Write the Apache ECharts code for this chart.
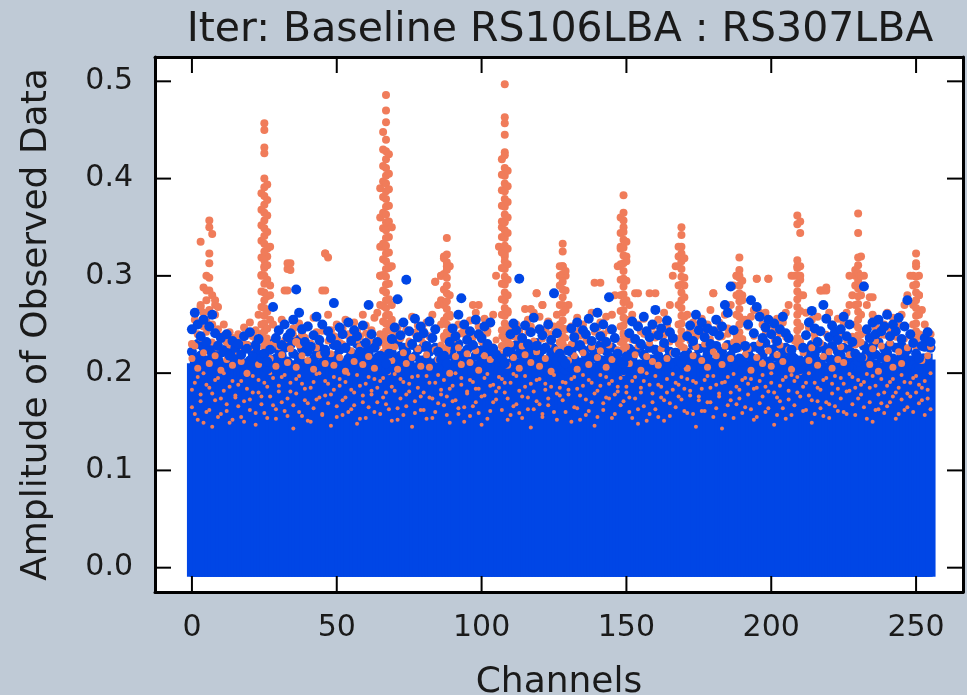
<!DOCTYPE html>
<html><head><meta charset="utf-8">
<script src="https://cdn.jsdelivr.net/npm/echarts@6/dist/echarts.min.js"></script>
<style>html,body{margin:0;padding:0;background:#bfcad6}#c{width:967px;height:695px}</style>
</head><body><div id="c"></div><script>
const titleText = 'Iter: Baseline RS106LBA : RS307LBA';
const xName = 'Channels';
const yName = 'Amplitude of Observed Data';
const xTicks = [0, 50, 100, 150, 200, 250];
const yTicks = [0, 0.1, 0.2, 0.3, 0.4, 0.5];

// top of the dense blue body of points, per channel 0..255
const coreTop = [
0.205,0.212,0.198,0.215,0.208,0.2,0.213,0.204,0.196,0.21,0.202,0.207,0.193,0.2,0.211,0.199,
0.203,0.197,0.209,0.192,0.201,0.206,0.195,0.21,0.204,0.2,0.214,0.208,0.199,0.205,0.194,0.207,
0.211,0.2,0.196,0.208,0.203,0.213,0.198,0.205,0.19,0.202,0.209,0.197,0.206,0.2,0.212,0.204,
0.199,0.207,0.193,0.21,0.203,0.197,0.208,0.201,0.214,0.196,0.205,0.2,0.209,0.194,0.206,0.211,
0.202,0.198,0.207,0.212,0.2,0.205,0.195,0.209,0.203,0.199,0.213,0.197,0.206,0.201,0.192,0.208,
0.204,0.21,0.199,0.206,0.195,0.203,0.211,0.2,0.207,0.197,0.204,0.214,0.198,0.205,0.201,0.209,
0.196,0.203,0.208,0.2,0.212,0.194,0.206,0.201,0.209,0.197,0.204,0.211,0.199,0.207,0.202,0.195,
0.21,0.2,0.205,0.197,0.213,0.203,0.198,0.208,0.193,0.206,0.201,0.21,0.196,0.204,0.209,0.2,
0.207,0.199,0.212,0.203,0.196,0.209,0.201,0.205,0.194,0.211,0.2,0.206,0.198,0.213,0.203,0.197,
0.208,0.202,0.195,0.21,0.204,0.199,0.207,0.193,0.212,0.201,0.206,0.197,0.209,0.203,0.2,0.214,
0.198,0.205,0.21,0.196,0.203,0.208,0.2,0.211,0.194,0.206,0.202,0.209,0.197,0.204,0.212,0.199,
0.206,0.2,0.213,0.195,0.203,0.209,0.198,0.205,0.201,0.21,0.196,0.207,0.203,0.199,0.211,0.204,
0.197,0.208,0.202,0.212,0.199,0.205,0.194,0.209,0.203,0.2,0.207,0.196,0.213,0.201,0.206,0.198,
0.21,0.203,0.197,0.208,0.2,0.205,0.211,0.195,0.204,0.209,0.199,0.206,0.202,0.213,0.197,0.204,
0.208,0.2,0.205,0.193,0.21,0.203,0.198,0.207,0.201,0.212,0.196,0.204,0.209,0.2,0.206,0.199,
0.211,0.203,0.197,0.208,0.202,0.214,0.199,0.205,0.21,0.196,0.207,0.203,0.212,0.2,0.215,0.209
];

// upper blue points per channel
const blueHi = [
0.245,0.262,0.25,0.238,0.255,0.232,0.248,0.26,0.241,0.228,0.236,0.222,0.24,0.218,0.233,0.226,
0.23,0.219,0.238,0.225,0.242,0.216,0.229,0.235,0.215,0.22,0.212,0.224,0.268,0.236,0.244,0.229,
0.25,0.237,0.241,0.255,0.286,0.262,0.245,0.232,0.248,0.227,0.239,0.258,0.234,0.25,0.221,0.243,
0.236,0.272,0.229,0.247,0.24,0.226,0.252,0.233,0.244,0.238,0.222,0.249,0.231,0.27,0.24,0.226,
0.232,0.218,0.214,0.21,0.22,0.235,0.247,0.276,0.239,0.252,0.296,0.243,0.23,0.256,0.237,0.248,
0.241,0.228,0.253,0.236,0.245,0.222,0.214,0.218,0.21,0.232,0.246,0.238,0.26,0.277,0.25,0.234,
0.243,0.229,0.255,0.24,0.236,0.248,0.23,0.252,0.225,0.219,0.212,0.215,0.21,0.222,0.24,0.251,
0.244,0.297,0.236,0.249,0.23,0.242,0.257,0.228,0.245,0.239,0.226,0.25,0.234,0.282,0.241,0.22,
0.214,0.21,0.223,0.246,0.237,0.252,0.229,0.244,0.24,0.256,0.233,0.247,0.262,0.238,0.25,0.232,
0.278,0.245,0.236,0.22,0.212,0.21,0.217,0.241,0.253,0.235,0.248,0.23,0.258,0.243,0.237,0.25,
0.265,0.239,0.246,0.231,0.254,0.242,0.236,0.221,0.213,0.21,0.218,0.238,0.249,0.233,0.26,0.244,
0.252,0.237,0.246,0.23,0.243,0.255,0.239,0.248,0.27,0.262,0.289,0.244,0.226,0.215,0.212,0.228,
0.25,0.275,0.241,0.268,0.258,0.236,0.247,0.255,0.24,0.251,0.233,0.245,0.258,0.241,0.236,0.224,
0.215,0.21,0.213,0.226,0.239,0.252,0.264,0.246,0.232,0.243,0.27,0.256,0.237,0.249,0.242,0.234,
0.245,0.258,0.238,0.25,0.232,0.22,0.212,0.216,0.289,0.245,0.236,0.252,0.24,0.255,0.243,0.248,
0.26,0.238,0.25,0.243,0.257,0.235,0.248,0.275,0.24,0.231,0.22,0.215,0.228,0.236,0.242,0.232
];

// lower blue points per channel
const blueLo = [
0.222,0.215,0.23,0.218,0.226,0.212,0.224,0.219,0.228,0.214,0.221,0.209,0.225,0.216,0.22,0.211,
0.217,0.224,0.21,0.228,0.213,0.22,0.226,0.208,0.219,0.207,0.204,0.21,0.231,0.215,0.223,0.218,
0.226,0.212,0.229,0.22,0.234,0.216,0.225,0.21,0.222,0.228,0.214,0.219,0.227,0.211,0.224,0.217,
0.213,0.229,0.218,0.224,0.209,0.226,0.215,0.221,0.212,0.23,0.219,0.214,0.225,0.22,0.21,0.228,
0.216,0.209,0.205,0.203,0.207,0.221,0.214,0.232,0.218,0.226,0.222,0.212,0.229,0.217,0.224,0.213,
0.227,0.215,0.222,0.21,0.226,0.213,0.206,0.204,0.203,0.219,0.225,0.211,0.23,0.22,0.216,0.224,
0.212,0.228,0.218,0.223,0.209,0.226,0.215,0.221,0.213,0.207,0.204,0.203,0.205,0.21,0.224,0.218,
0.229,0.22,0.212,0.226,0.218,0.223,0.214,0.231,0.217,0.224,0.21,0.227,0.219,0.225,0.213,0.208,
0.205,0.203,0.207,0.222,0.215,0.228,0.211,0.224,0.218,0.213,0.226,0.22,0.215,0.229,0.212,0.223,
0.217,0.226,0.213,0.207,0.204,0.203,0.206,0.225,0.216,0.222,0.209,0.228,0.219,0.213,0.226,0.211,
0.224,0.218,0.212,0.227,0.215,0.222,0.21,0.208,0.204,0.203,0.205,0.221,0.214,0.229,0.217,0.225,
0.213,0.226,0.219,0.223,0.211,0.228,0.216,0.222,0.214,0.229,0.218,0.225,0.21,0.205,0.203,0.207,
0.222,0.216,0.227,0.213,0.225,0.219,0.231,0.212,0.224,0.217,0.228,0.214,0.221,0.226,0.211,0.218,
0.206,0.203,0.204,0.21,0.223,0.216,0.229,0.219,0.225,0.212,0.227,0.221,0.215,0.228,0.213,0.222,
0.218,0.226,0.212,0.224,0.217,0.208,0.204,0.205,0.228,0.221,0.214,0.227,0.219,0.232,0.216,0.225,
0.221,0.229,0.215,0.226,0.212,0.228,0.219,0.224,0.213,0.208,0.205,0.204,0.215,0.227,0.231,0.226
];

// upper salmon points per channel
const salmonTop = [
0.23,0.255,0.24,0.268,0.248,0.275,0.285,0.26,0.27,0.245,0.238,0.25,0.232,0.242,0.236,0.226,
0.24,0.233,0.247,0.229,0.252,0.238,0.244,0.26,0.3,0.31,0.32,0.28,0.25,0.237,0.243,0.255,
0.285,0.307,0.313,0.246,0.232,0.251,0.24,0.236,0.249,0.228,0.257,0.242,0.234,0.285,0.323,0.26,
0.244,0.238,0.25,0.231,0.246,0.255,0.24,0.235,0.252,0.243,0.238,0.26,0.249,0.235,0.244,0.257,
0.262,0.3,0.33,0.35,0.31,0.255,0.24,0.247,0.236,0.252,0.244,0.23,0.258,0.241,0.249,0.235,
0.243,0.252,0.238,0.26,0.294,0.27,0.3,0.32,0.31,0.258,0.244,0.237,0.25,0.241,0.246,0.233,
0.254,0.27,0.262,0.248,0.239,0.256,0.243,0.251,0.26,0.3,0.33,0.35,0.32,0.262,0.245,0.238,
0.25,0.243,0.236,0.266,0.255,0.248,0.262,0.282,0.258,0.27,0.245,0.253,0.24,0.248,0.26,0.3,
0.31,0.3,0.27,0.248,0.24,0.257,0.244,0.25,0.238,0.256,0.262,0.293,0.247,0.252,0.24,0.258,
0.244,0.26,0.28,0.31,0.33,0.35,0.32,0.27,0.26,0.282,0.25,0.243,0.256,0.241,0.282,0.248,
0.24,0.255,0.238,0.262,0.249,0.27,0.3,0.31,0.32,0.33,0.29,0.26,0.243,0.252,0.238,0.247,
0.256,0.24,0.25,0.265,0.282,0.244,0.252,0.238,0.26,0.246,0.27,0.29,0.3,0.3,0.28,0.255,
0.248,0.258,0.265,0.297,0.262,0.25,0.262,0.297,0.25,0.243,0.256,0.241,0.252,0.262,0.27,0.3,
0.3,0.31,0.3,0.28,0.262,0.247,0.255,0.24,0.258,0.285,0.285,0.285,0.262,0.25,0.243,0.256,
0.24,0.252,0.262,0.27,0.28,0.3,0.3,0.32,0.29,0.27,0.278,0.26,0.247,0.255,0.24,0.25,
0.262,0.245,0.257,0.243,0.25,0.26,0.27,0.28,0.3,0.3,0.31,0.28,0.265,0.25,0.243,0.24
];

// salmon points mixed into the top of the blue body, per channel
const salmonMid = [
0.215,0.228,0.205,0.236,0.221,0.242,0.21,0.232,0.218,0.226,0.203,0.239,0.214,0.229,0.208,0.235,
0.222,0.212,0.238,0.2,0.226,0.217,0.233,0.209,0.241,0.224,0.236,0.215,0.23,0.207,0.227,0.219,
0.234,0.211,0.225,0.24,0.206,0.229,0.218,0.237,0.213,0.231,0.204,0.226,0.219,0.243,0.21,0.233,
0.22,0.208,0.235,0.216,0.23,0.202,0.238,0.223,0.212,0.234,0.227,0.209,0.241,0.217,0.232,0.205,
0.228,0.218,0.231,0.224,0.236,0.213,0.227,0.204,0.239,0.221,0.21,0.233,0.216,0.242,0.225,0.207,
0.231,0.219,0.206,0.237,0.224,0.214,0.229,0.235,0.222,0.2,0.234,0.217,0.226,0.209,0.24,0.22,
0.211,0.236,0.223,0.203,0.232,0.218,0.241,0.214,0.227,0.234,0.221,0.238,0.226,0.208,0.23,0.216,
0.237,0.205,0.228,0.219,0.242,0.211,0.233,0.222,0.207,0.235,0.215,0.229,0.202,0.239,0.224,0.231,
0.226,0.236,0.213,0.23,0.218,0.204,0.238,0.221,0.233,0.209,0.227,0.242,0.216,0.223,0.235,0.206,
0.229,0.214,0.237,0.224,0.232,0.238,0.227,0.21,0.234,0.219,0.228,0.203,0.24,0.217,0.231,0.212,
0.236,0.208,0.225,0.239,0.215,0.232,0.221,0.236,0.23,0.238,0.226,0.205,0.233,0.218,0.227,0.241,
0.213,0.23,0.206,0.235,0.222,0.218,0.237,0.209,0.228,0.24,0.215,0.232,0.236,0.229,0.234,0.219,
0.225,0.203,0.238,0.216,0.231,0.21,0.242,0.223,0.207,0.234,0.219,0.229,0.212,0.237,0.224,0.204,
0.233,0.236,0.228,0.221,0.239,0.213,0.226,0.235,0.208,0.231,0.217,0.24,0.222,0.205,0.236,0.214,
0.227,0.211,0.234,0.219,0.238,0.229,0.236,0.232,0.216,0.241,0.209,0.225,0.233,0.202,0.228,0.239,
0.215,0.231,0.206,0.237,0.222,0.21,0.235,0.226,0.238,0.233,0.236,0.229,0.213,0.24,0.218,0.227
];

// salmon speckles inside the dense body, two per channel
const salmonSpeck = [
0.165,0.19,0.152,0.178,0.2,0.16,0.185,0.145,0.172,0.195,0.158,0.182,0.168,0.149,0.192,0.175,
0.188,0.155,0.171,0.198,0.162,0.18,0.147,0.193,0.176,0.159,0.186,0.2,0.167,0.153,0.181,0.196,
0.161,0.174,0.19,0.143,0.179,0.197,0.156,0.184,0.169,0.15,0.191,0.173,0.2,0.158,0.177,0.189,
0.146,0.183,0.166,0.194,0.157,0.175,0.199,0.163,0.18,0.148,0.187,0.17,0.154,0.196,0.178,0.16,
0.185,0.192,0.175,0.168,0.2,0.151,0.182,0.164,0.194,0.157,0.178,0.189,0.145,0.171,0.197,0.162,
0.18,0.153,0.19,0.174,0.16,0.198,0.183,0.167,0.176,0.149,0.187,0.172,0.158,0.195,0.165,0.181,
0.156,0.191,0.17,0.184,0.147,0.177,0.199,0.161,0.188,0.173,0.185,0.194,0.18,0.152,0.19,0.166,
0.197,0.159,0.176,0.186,0.163,0.144,0.181,0.193,0.168,0.155,0.189,0.174,0.2,0.16,0.179,0.185,
0.172,0.19,0.183,0.15,0.196,0.164,0.177,0.187,0.157,0.193,0.17,0.146,0.182,0.198,0.162,0.175,
0.189,0.154,0.178,0.186,0.195,0.171,0.18,0.16,0.192,0.174,0.148,0.185,0.166,0.2,0.158,0.179,
0.163,0.188,0.175,0.151,0.194,0.169,0.183,0.19,0.176,0.196,0.184,0.159,0.177,0.192,0.145,0.172,
0.184,0.161,0.197,0.17,0.155,0.188,0.176,0.143,0.191,0.167,0.18,0.199,0.186,0.174,0.193,0.165,
0.178,0.194,0.152,0.185,0.169,0.198,0.16,0.181,0.19,0.147,0.175,0.187,0.164,0.196,0.173,0.157,
0.192,0.18,0.2,0.186,0.162,0.177,0.149,0.19,0.171,0.183,0.156,0.195,0.168,0.179,0.197,0.161,
0.174,0.189,0.158,0.182,0.196,0.185,0.193,0.178,0.165,0.199,0.17,0.15,0.187,0.163,0.194,0.18,
0.166,0.191,0.176,0.153,0.185,0.198,0.162,0.179,0.19,0.195,0.18,0.188,0.172,0.157,0.183,0.2
];
const salmonSpeck2 = [
0.183,0.158,0.196,0.171,0.149,0.188,0.162,0.179,0.193,0.155,0.174,0.2,0.161,0.186,0.152,0.177,
0.166,0.192,0.15,0.184,0.173,0.197,0.159,0.18,0.168,0.19,0.154,0.176,0.195,0.163,0.187,0.17,
0.198,0.156,0.181,0.167,0.194,0.16,0.189,0.172,0.151,0.185,0.164,0.199,0.175,0.157,0.192,0.169,
0.178,0.196,0.155,0.187,0.172,0.191,0.16,0.183,0.167,0.198,0.153,0.177,0.189,0.165,0.182,0.194,
0.17,0.158,0.195,0.18,0.163,0.186,0.199,0.152,0.174,0.191,0.166,0.181,0.196,0.159,0.185,0.176,
0.162,0.197,0.175,0.154,0.19,0.169,0.178,0.193,0.157,0.184,0.171,0.2,0.164,0.188,0.15,0.179,
0.193,0.166,0.184,0.159,0.176,0.195,0.153,0.187,0.17,0.181,0.196,0.162,0.19,0.174,0.157,0.199,
0.168,0.182,0.154,0.197,0.175,0.189,0.163,0.171,0.194,0.158,0.183,0.167,0.186,0.198,0.152,0.177,
0.191,0.16,0.178,0.194,0.165,0.184,0.152,0.198,0.173,0.161,0.19,0.179,0.155,0.187,0.169,0.196,
0.174,0.192,0.158,0.181,0.167,0.199,0.186,0.175,0.154,0.196,0.163,0.18,0.192,0.151,0.188,0.17,
0.197,0.155,0.186,0.172,0.18,0.156,0.199,0.165,0.188,0.173,0.161,0.194,0.182,0.158,0.19,0.176,
0.161,0.193,0.17,0.185,0.197,0.164,0.179,0.19,0.157,0.196,0.172,0.154,0.168,0.183,0.159,0.195,
0.189,0.163,0.184,0.155,0.192,0.176,0.186,0.164,0.2,0.18,0.157,0.171,0.193,0.153,0.182,0.198,
0.167,0.196,0.176,0.161,0.19,0.2,0.172,0.158,0.185,0.164,0.193,0.17,0.154,0.189,0.166,0.184,
0.195,0.16,0.181,0.199,0.168,0.157,0.174,0.188,0.191,0.153,0.185,0.197,0.162,0.178,0.169,0.159,
0.187,0.17,0.194,0.18,0.158,0.173,0.191,0.165,0.176,0.16,0.197,0.169,0.185,0.192,0.174,0.163
];

// salmon spike columns: [channel, [amplitudes]]
const salmonSpikes = [
[3,[0.335,0.27]],[4,[0.288,0.262,0.25]],[5,[0.3,0.285,0.255]],
[6,[0.357,0.35,0.323,0.313,0.298,0.265]],[7,[0.343,0.28,0.25]],[8,[0.275,0.26]],[9,[0.268]],
[24,[0.385,0.368,0.352,0.336,0.319,0.301,0.284,0.268,0.25,0.234]],
[25,[0.457,0.45,0.432,0.426,0.4,0.391,0.382,0.373,0.365,0.357,0.349,0.341,0.333,0.325,0.316,0.308,0.3,0.292,0.283,0.275,0.267,0.259,0.251,0.243,0.235,0.227,0.219]],
[26,[0.394,0.378,0.362,0.345,0.328,0.311,0.296,0.279,0.263,0.246,0.23]],
[27,[0.33,0.29,0.255]],
[33,[0.313,0.285]],[34,[0.306]],[46,[0.323,0.285]],[47,[0.319]],
[65,[0.39,0.36,0.33,0.3,0.27,0.24]],
[66,[0.448,0.43,0.413,0.397,0.381,0.365,0.349,0.333,0.317,0.301,0.285,0.269,0.253,0.237,0.221]],
[67,[0.486,0.47,0.458,0.44,0.428,0.42,0.411,0.403,0.395,0.387,0.379,0.371,0.363,0.355,0.347,0.339,0.331,0.323,0.315,0.307,0.299,0.291,0.283,0.275,0.267,0.259,0.251,0.243,0.235,0.227,0.219]],
[68,[0.425,0.405,0.389,0.372,0.356,0.34,0.324,0.308,0.292,0.276,0.26,0.244,0.228]],
[69,[0.35,0.31,0.27,0.25]],
[84,[0.294]],[86,[0.3,0.275,0.25]],
[87,[0.318,0.302,0.286,0.27,0.254,0.238,0.222]],
[88,[0.339,0.322,0.314,0.306,0.298,0.29,0.282,0.274,0.266,0.258,0.25,0.242,0.234,0.226]],
[89,[0.31,0.28,0.26,0.24]],[99,[0.27]],
[107,[0.42,0.404,0.388,0.372,0.356,0.34,0.324,0.308,0.292,0.276,0.26,0.244,0.228]],
[108,[0.497,0.463,0.457,0.445,0.427,0.424,0.411,0.403,0.395,0.387,0.379,0.371,0.363,0.355,0.347,0.339,0.331,0.323,0.315,0.307,0.299,0.291,0.283,0.275,0.267,0.259,0.251,0.243,0.235,0.227,0.219]],
[109,[0.408,0.392,0.376,0.36,0.344,0.328,0.312,0.296,0.28,0.264,0.248,0.232]],
[117,[0.266]],[119,[0.282]],[121,[0.27]],
[127,[0.31,0.29,0.27,0.25,0.232]],
[128,[0.333,0.325,0.31,0.302,0.294,0.286,0.278,0.27,0.262,0.254,0.246,0.238,0.23,0.222]],
[129,[0.305,0.285,0.265,0.245,0.226]],[141,[0.293]],
[148,[0.36,0.344,0.328,0.312,0.296,0.28,0.264,0.248,0.232]],
[149,[0.383,0.365,0.357,0.345,0.337,0.329,0.321,0.313,0.305,0.297,0.289,0.281,0.273,0.265,0.257,0.249,0.241,0.233,0.225]],
[150,[0.335,0.315,0.295,0.275,0.255,0.236]],[154,[0.282]],[160,[0.282]],
[168,[0.33,0.31,0.29,0.27,0.25,0.232]],
[169,[0.35,0.342,0.323,0.315,0.307,0.299,0.291,0.283,0.275,0.267,0.259,0.251,0.243,0.235,0.227]],
[170,[0.318,0.298,0.278,0.258,0.238]],[180,[0.282]],
[188,[0.3,0.28,0.26,0.24]],
[189,[0.319,0.306,0.298,0.29,0.282,0.274,0.266,0.258,0.25,0.242,0.234,0.226]],
[190,[0.295,0.275,0.255,0.235]],[195,[0.297]],[199,[0.297]],
[209,[0.362,0.353,0.316,0.308,0.3,0.292,0.284,0.276,0.268,0.26,0.252,0.244,0.236,0.228]],
[210,[0.356,0.344,0.31,0.296,0.28,0.264,0.248,0.232]],[217,[0.285]],[219,[0.288]],
[227,[0.3]],[229,[0.306,0.29,0.27,0.25]],
[230,[0.364,0.344,0.319,0.311,0.303,0.295,0.287,0.279,0.271,0.263,0.255,0.247,0.239,0.231]],
[231,[0.3,0.28,0.26,0.24]],[232,[0.3]],[235,[0.278]],
[249,[0.29,0.27,0.25]],
[250,[0.323,0.313,0.299,0.291,0.283,0.275,0.267,0.259,0.251,0.243,0.235,0.227]],
[251,[0.3,0.28,0.26,0.24]]
];

const BLUE = '#0046e6', SALMON = '#f07c5a', FONT = 'DejaVu Sans', TXT = '#1a1a1a';

const perChannel = arr => arr.map((v, i) => [i, v]);
const coreData = perChannel(coreTop);
const speckPts = perChannel(salmonSpeck).concat(perChannel(salmonSpeck2));
const salmonPts = perChannel(salmonTop);
salmonSpikes.forEach(([ch, vals]) => vals.forEach(v => salmonPts.push([ch, v])));

const chart = echarts.init(document.getElementById('c'), null, {renderer: 'canvas'});
const XMIN = -12.75, XMAX = 266.2, YMIN = -0.025, YMAX = 0.525;
const TICK_LEN = 16;
const frameLine = () => ({show: true, onZero: false, lineStyle: {color: '#000', width: 3}});
const lab = () => ({fontFamily: FONT, fontSize: 30, color: TXT});
const sc = (data, size, color) => ({type: 'scatter', data, symbolSize: size, silent: true, z: 2,
  itemStyle: {color, opacity: 1}, emphasis: {disabled: true}});
// tick marks on all four sides, placed through the axis scales
const tickSeries = (data, horizontal) => ({
  type: 'custom', data, clip: false, silent: true, z: 12,
  renderItem: (params, api) => {
    const cs = params.coordSys;
    const p = api.coord([api.value(0), api.value(1)]);
    const st = () => ({stroke: '#000', lineWidth: 2});
    if (horizontal) {
      const yb = cs.y + cs.height, yt = cs.y;
      return {type: 'group', children: [
        {type: 'line', shape: {x1: p[0], y1: yb, x2: p[0], y2: yb - TICK_LEN}, style: st()},
        {type: 'line', shape: {x1: p[0], y1: yt, x2: p[0], y2: yt + TICK_LEN}, style: st()}]};
    }
    const xl = cs.x, xr = cs.x + cs.width;
    return {type: 'group', children: [
      {type: 'line', shape: {x1: xl, y1: p[1], x2: xl + TICK_LEN, y2: p[1]}, style: st()},
      {type: 'line', shape: {x1: xr, y1: p[1], x2: xr - TICK_LEN, y2: p[1]}, style: st()}]};
  }
});

chart.setOption({
  backgroundColor: '#bfcad6',
  animation: false,
  graphic: [{type: 'text', x: 560, y: 30, style: {text: titleText, font: '41px "DejaVu Sans"', fill: TXT,
    align: 'center', verticalAlign: 'middle', textAlign: 'center', textVerticalAlign: 'middle'}}],
  grid: {left: 155, right: 4, top: 57, bottom: 103, show: true, backgroundColor: '#fff', z: 0,
    borderWidth: 0, containLabel: false, outerBoundsMode: 'none'},
  xAxis: [
    {type: 'value', min: XMIN, max: XMAX, splitNumber: 5, position: 'bottom', z: 10,
     name: xName, nameLocation: 'middle', nameGap: 73,
     nameTextStyle: {fontFamily: FONT, fontSize: 36, color: TXT},
     axisLine: frameLine(), axisTick: {show: false}, splitLine: {show: false},
     axisLabel: Object.assign({margin: 21, showMinLabel: false, showMaxLabel: false}, lab())},
    {type: 'value', min: XMIN, max: XMAX, splitNumber: 5, position: 'top', z: 10,
     axisLine: frameLine(), axisTick: {show: false}, splitLine: {show: false}, axisLabel: {show: false}}
  ],
  yAxis: [
    {type: 'value', min: YMIN, max: YMAX, splitNumber: 5, position: 'left', z: 10,
     name: yName, nameLocation: 'middle', nameGap: 100,
     nameTextStyle: {fontFamily: FONT, fontSize: 36, color: TXT},
     axisLine: frameLine(), axisTick: {show: false}, splitLine: {show: false},
     axisLabel: Object.assign({margin: 22, showMinLabel: false, showMaxLabel: false,
       formatter: v => v.toFixed(1)}, lab())},
    {type: 'value', min: YMIN, max: YMAX, splitNumber: 5, position: 'right', z: 10,
     axisLine: frameLine(), axisTick: {show: false}, splitLine: {show: false}, axisLabel: {show: false}}
  ],
  series: [
    {type: 'custom', data: coreData, clip: true, silent: true, z: 2,
     renderItem: (params, api) => {
       const t = api.coord([api.value(0), api.value(1)]);
       const b = api.coord([api.value(0), 0]);
       return {type: 'rect', shape: {x: t[0] - 5, y: t[1] - 5, width: 10, height: b[1] - t[1] + 14},
         style: {fill: BLUE}};
     }},
    sc(speckPts, 4, SALMON),
    sc(perChannel(blueLo), 10, BLUE),
    sc(perChannel(salmonMid), 7, SALMON),
    sc(salmonPts, 8, SALMON),
    sc(perChannel(blueHi), 10, BLUE),
    tickSeries(xTicks.map(v => [v, 0]), true),
    tickSeries(yTicks.map(v => [0, v]), false)
  ]
});
</script></body></html>
